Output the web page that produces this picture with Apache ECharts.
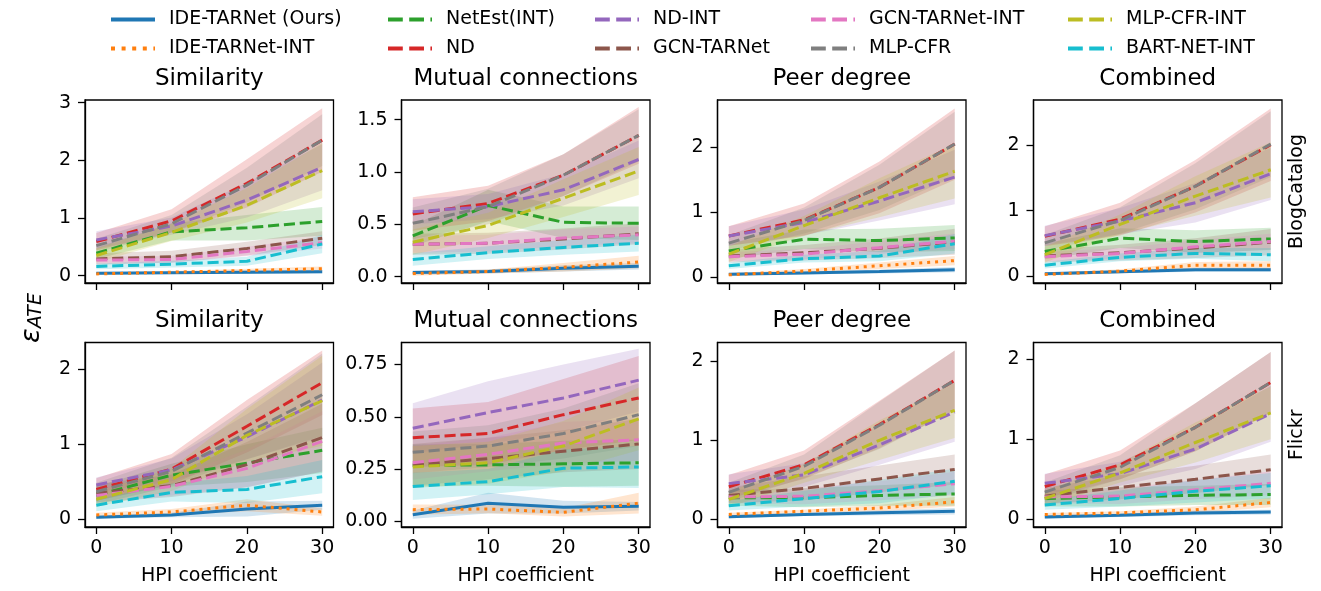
<!DOCTYPE html>
<html><head><meta charset="utf-8">
<script src="https://cdn.jsdelivr.net/npm/echarts@6/dist/echarts.min.js"></script>
<style>html,body{margin:0;padding:0;background:#fff}#c{width:1321px;height:591px}</style>
</head><body><div id="c"></div><script>
// ---------------- DATA ----------------
const hpi = [0, 10, 20, 30];
const methods = ['IDE-TARNet (Ours)','IDE-TARNet-INT','NetEst(INT)','ND','ND-INT','GCN-TARNet','GCN-TARNet-INT','MLP-CFR','MLP-CFR-INT','BART-NET-INT'];
const panelTitles = ['Similarity','Mutual connections','Peer degree','Combined'];
const rowLabels = ['BlogCatalog','Flickr'];
const xTicks = [0, 10, 20, 30];
const yTicks = [[0,1,2,3],[0,0.5,1,1.5],[0,1,2],[0,1,2],[0,1,2],[0,0.25,0.5,0.75],[0,1,2],[0,1,2]];

// mean ATE error, rows follow `methods`
const meanBCSimilarity = [
 [0.04,0.05,0.06,0.07],[0.03,0.06,0.09,0.12],[0.39,0.76,0.83,0.94],[0.59,0.95,1.60,2.35],[0.62,0.86,1.31,1.88],
 [0.29,0.33,0.47,0.65],[0.27,0.28,0.42,0.57],[0.52,0.90,1.57,2.35],[0.35,0.75,1.22,1.82],[0.16,0.20,0.25,0.55]];
const spreadBCSimilarity = [
 [0.02,0.02,0.03,0.03],[0.02,0.02,0.03,0.04],[0.10,0.15,0.22,0.25],[0.15,0.20,0.42,0.55],[0.15,0.15,0.30,0.40],
 [0.10,0.10,0.12,0.12],[0.06,0.06,0.08,0.10],[0.12,0.15,0.30,0.45],[0.12,0.15,0.30,0.48],[0.05,0.06,0.08,0.16]];
const meanBCMutual = [
 [0.04,0.05,0.08,0.10],[0.03,0.05,0.09,0.14],[0.39,0.68,0.52,0.51],[0.60,0.70,0.97,1.35],[0.62,0.67,0.83,1.12],
 [0.31,0.32,0.36,0.41],[0.31,0.32,0.37,0.40],[0.51,0.67,0.97,1.35],[0.33,0.49,0.75,1.01],[0.165,0.23,0.28,0.32]];
const spreadBCMutual = [
 [0.02,0.02,0.03,0.03],[0.02,0.02,0.04,0.06],[0.10,0.15,0.15,0.16],[0.16,0.17,0.20,0.27],[0.12,0.12,0.15,0.18],
 [0.10,0.10,0.10,0.10],[0.08,0.08,0.08,0.08],[0.15,0.17,0.20,0.25],[0.12,0.12,0.18,0.23],[0.06,0.06,0.07,0.08]];
const meanBCPeer = [
 [0.04,0.06,0.08,0.11],[0.03,0.09,0.17,0.25],[0.40,0.58,0.56,0.60],[0.63,0.88,1.38,2.05],[0.63,0.84,1.17,1.54],
 [0.32,0.37,0.44,0.54],[0.31,0.35,0.45,0.55],[0.52,0.87,1.38,2.05],[0.35,0.79,1.22,1.63],[0.17,0.28,0.32,0.51]];
const spreadBCPeer = [
 [0.02,0.02,0.03,0.04],[0.02,0.03,0.05,0.07],[0.12,0.15,0.18,0.20],[0.15,0.25,0.40,0.55],[0.15,0.20,0.30,0.42],
 [0.10,0.12,0.15,0.20],[0.07,0.08,0.10,0.12],[0.12,0.20,0.35,0.50],[0.12,0.15,0.30,0.42],[0.05,0.06,0.08,0.15]];
const meanBCCombined = [
 [0.04,0.07,0.10,0.10],[0.03,0.08,0.17,0.17],[0.38,0.58,0.53,0.57],[0.61,0.87,1.37,2.00],[0.62,0.84,1.12,1.56],
 [0.31,0.36,0.43,0.52],[0.30,0.35,0.45,0.53],[0.51,0.85,1.37,2.01],[0.33,0.79,1.22,1.62],[0.17,0.29,0.35,0.33]];
const spreadBCCombined = [
 [0.02,0.02,0.03,0.03],[0.02,0.03,0.05,0.06],[0.12,0.15,0.17,0.17],[0.15,0.25,0.40,0.55],[0.15,0.20,0.30,0.40],
 [0.10,0.12,0.15,0.20],[0.07,0.08,0.10,0.12],[0.12,0.20,0.35,0.50],[0.12,0.15,0.30,0.42],[0.05,0.06,0.08,0.10]];
const meanFlSimilarity = [
 [0.03,0.06,0.14,0.19],[0.06,0.10,0.19,0.10],[0.32,0.59,0.75,0.92],[0.40,0.67,1.24,1.82],[0.46,0.66,1.10,1.59],
 [0.35,0.45,0.73,1.09],[0.32,0.44,0.68,1.04],[0.37,0.64,1.15,1.66],[0.27,0.53,1.12,1.58],[0.19,0.36,0.40,0.57]];
const spreadFlSimilarity = [
 [0.02,0.03,0.10,0.06],[0.03,0.04,0.08,0.05],[0.12,0.15,0.25,0.30],[0.15,0.20,0.35,0.43],[0.10,0.15,0.30,0.50],
 [0.12,0.15,0.30,0.45],[0.10,0.12,0.25,0.40],[0.12,0.18,0.35,0.55],[0.10,0.15,0.35,0.60],[0.08,0.12,0.18,0.22]];
const meanFlMutual = [
 [0.032,0.087,0.068,0.072],[0.056,0.059,0.043,0.087],[0.267,0.27,0.275,0.28],[0.40,0.42,0.51,0.59],[0.445,0.52,0.59,0.675],
 [0.27,0.30,0.335,0.37],[0.28,0.32,0.375,0.39],[0.33,0.36,0.42,0.51],[0.26,0.28,0.36,0.49],[0.167,0.19,0.254,0.26]];
const spreadFlMutual = [
 [0.02,0.05,0.03,0.02],[0.025,0.02,0.02,0.05],[0.10,0.10,0.11,0.11],[0.14,0.15,0.17,0.20],[0.12,0.15,0.16,0.15],
 [0.10,0.10,0.10,0.12],[0.08,0.08,0.10,0.10],[0.10,0.10,0.12,0.15],[0.10,0.10,0.12,0.15],[0.065,0.06,0.09,0.10]];
const meanFlPeer = [
 [0.03,0.06,0.08,0.10],[0.06,0.10,0.14,0.22],[0.27,0.27,0.30,0.32],[0.41,0.69,1.20,1.76],[0.45,0.56,0.94,1.36],
 [0.30,0.39,0.51,0.63],[0.28,0.29,0.36,0.45],[0.34,0.67,1.19,1.76],[0.25,0.58,1.00,1.38],[0.17,0.26,0.35,0.48]];
const spreadFlPeer = [
 [0.02,0.02,0.03,0.04],[0.02,0.02,0.04,0.06],[0.10,0.12,0.13,0.15],[0.15,0.18,0.30,0.38],[0.12,0.15,0.25,0.38],
 [0.10,0.15,0.17,0.19],[0.08,0.10,0.12,0.15],[0.12,0.15,0.30,0.38],[0.10,0.12,0.25,0.35],[0.06,0.10,0.15,0.16]];
const meanFlCombined = [
 [0.03,0.05,0.08,0.09],[0.06,0.08,0.12,0.21],[0.26,0.28,0.30,0.31],[0.41,0.68,1.15,1.71],[0.45,0.57,0.88,1.32],
 [0.29,0.40,0.50,0.62],[0.28,0.29,0.37,0.45],[0.34,0.65,1.15,1.71],[0.26,0.58,0.96,1.33],[0.18,0.26,0.35,0.42]];
const spreadFlCombined = [
 [0.02,0.02,0.03,0.03],[0.02,0.02,0.04,0.06],[0.10,0.12,0.12,0.13],[0.15,0.18,0.30,0.38],[0.12,0.15,0.25,0.35],
 [0.10,0.15,0.17,0.19],[0.08,0.10,0.12,0.15],[0.12,0.15,0.30,0.38],[0.10,0.12,0.25,0.33],[0.06,0.10,0.14,0.16]];

// ---------------- STYLE / LAYOUT ----------------
const panelMeans = [meanBCSimilarity, meanBCMutual, meanBCPeer, meanBCCombined, meanFlSimilarity, meanFlMutual, meanFlPeer, meanFlCombined];
const panelSpreads = [spreadBCSimilarity, spreadBCMutual, spreadBCPeer, spreadBCCombined, spreadFlSimilarity, spreadFlMutual, spreadFlPeer, spreadFlCombined];
const yLimits = [[-0.127,3.045],[-0.06,1.688],[-0.096,2.73],[-0.1,2.68],[-0.1,2.355],[-0.027,0.855],[-0.1,2.24],[-0.096,2.21]];
const yDecimals = [0,1,0,0,0,2,0,0];
const colors = ['#1f77b4','#ff7f0e','#2ca02c','#d62728','#9467bd','#8c564b','#e377c2','#7f7f7f','#bcbd22','#17becf'];
const LW = 3;
const dashPat = [3.7*LW, 1.6*LW], dotPat = [1*LW, 1.65*LW];
const lineTypeOf = i => i === 0 ? 'solid' : (i === 1 ? dotPat : dashPat);
const FONT = 'DejaVu Sans';
const colLeft = [85, 401.5, 717.5, 1033.5];
const gridW = 248.5;
const rowTop = [100, 342.5];
const rowH = [183, 184.5];

const grids = [], xAxes = [], yAxes = [], series = [], graphics = [];
for (let p = 0; p < 8; p++) {
  const r = Math.floor(p / 4), c = p % 4;
  grids.push({left: colLeft[c], top: rowTop[r], width: gridW, height: rowH[r], show: true, borderColor: '#000', borderWidth: 1.3, backgroundColor: 'transparent'});
  xAxes.push({type: 'value', gridIndex: p, min: -1.5, max: 31.5,
    axisLine: {show: true, onZero: false, lineStyle: {color: '#000', width: 1.3}},
    axisTick: {show: true, length: 7, lineStyle: {color: '#000', width: 1.3}, customValues: xTicks},
    axisLabel: {show: r === 1, customValues: xTicks, fontSize: 19, color: '#000', fontFamily: FONT, margin: 12},
    splitLine: {show: false},
    name: r === 1 ? 'HPI coefficient' : '', nameLocation: 'middle', nameGap: 40,
    nameTextStyle: {fontSize: 19, color: '#000', fontFamily: FONT}});
  yAxes.push({type: 'value', gridIndex: p, min: yLimits[p][0], max: yLimits[p][1],
    axisLine: {show: true, onZero: false, lineStyle: {color: '#000', width: 1.3}},
    axisTick: {show: true, length: 7, lineStyle: {color: '#000', width: 1.3}, customValues: yTicks[p]},
    axisLabel: {customValues: yTicks[p], formatter: v => Number(v).toFixed(yDecimals[p]), fontSize: 19, color: '#000', fontFamily: FONT, margin: 14},
    splitLine: {show: false}});
  const M = panelMeans[p], S = panelSpreads[p];
  // shaded bands (mean ± spread), drawn as polygons through the axis scales
  for (let i = 0; i < methods.length; i++) {
    const bandData = hpi.map((x, k) => [x, M[i][k] - S[i][k], M[i][k] + S[i][k]]);
    series.push({type: 'custom', name: 'band' + p + '_' + i, xAxisIndex: p, yAxisIndex: p, silent: true, z: 1, clip: true,
      data: [[0]],
      renderItem: (params, api) => {
        const pts = [];
        for (let k = 0; k < bandData.length; k++) pts.push(api.coord([bandData[k][0], bandData[k][2]]));
        for (let k = bandData.length - 1; k >= 0; k--) pts.push(api.coord([bandData[k][0], bandData[k][1]]));
        return {type: 'polygon', shape: {points: pts}, style: {fill: colors[i], opacity: 0.2}};
      }});
  }
  // mean lines
  for (let i = 0; i < methods.length; i++) {
    series.push({type: 'line', name: methods[i], xAxisIndex: p, yAxisIndex: p, symbol: 'none', z: 3 + i * 0.01,
      color: colors[i], itemStyle: {color: colors[i]},
      lineStyle: {color: colors[i], width: LW, type: lineTypeOf(i), cap: 'butt'},
      data: hpi.map((x, k) => [x, M[i][k]])});
  }
  graphics.push({type: 'text', x: colLeft[c] + gridW / 2, y: rowTop[r] - 21,
    style: {text: panelTitles[c], font: '23px "DejaVu Sans"', fill: '#000', align: 'center', verticalAlign: 'middle'}});
}
// row labels
graphics.push({type: 'text', x: 1297, y: rowTop[0] + rowH[0] / 2, rotation: Math.PI / 2,
  style: {text: rowLabels[0], font: '19px "DejaVu Sans"', fill: '#000', align: 'center', verticalAlign: 'middle'}});
graphics.push({type: 'text', x: 1297, y: rowTop[1] + rowH[1] / 2, rotation: Math.PI / 2,
  style: {text: rowLabels[1], font: '19px "DejaVu Sans"', fill: '#000', align: 'center', verticalAlign: 'middle'}});
// y-label epsilon_ATE
graphics.push({type: 'text', x: 30, y: 318, rotation: Math.PI / 2,
  style: {text: '{e|ε}{s|ATE}', align: 'center', verticalAlign: 'middle',
    rich: {e: {fontSize: 27, fontStyle: 'italic', fontFamily: FONT, fill: '#000', verticalAlign: 'bottom'},
           s: {fontSize: 19, fontStyle: 'italic', fontFamily: FONT, fill: '#000', padding: [12, 0, 0, 0]}}}});

// legends: 5 columns x 2 rows (column-major)
const legendCols = [[0,1],[2,3],[4,5],[6,7],[8,9]];
const legendX = [109, 386, 593, 809, 1066];
const legends = legendCols.map((idxs, c) => ({
  orient: 'vertical', left: legendX[c], top: 9, itemWidth: 44, itemHeight: 14, itemGap: 8, padding: 0,
  textStyle: {fontSize: 19, color: '#000', fontFamily: FONT, padding: [0, 0, 0, 9], lineHeight: 21},
  itemStyle: {opacity: 0},
  data: idxs.map(i => ({name: methods[i], itemStyle: {opacity: 0},
    lineStyle: {color: colors[i], width: 4, opacity: 1, cap: 'butt', type: i === 0 ? 'solid' : (i === 1 ? [4, 6.6] : [14.8, 6.4])}})),
  selectedMode: false
}));

const chart = echarts.init(document.getElementById('c'), null, {renderer: 'canvas'});
chart.setOption({
  animation: false, backgroundColor: '#fff',
  textStyle: {fontFamily: FONT},
  grid: grids, xAxis: xAxes, yAxis: yAxes, series: series, legend: legends, graphic: graphics
});
</script></body></html>
